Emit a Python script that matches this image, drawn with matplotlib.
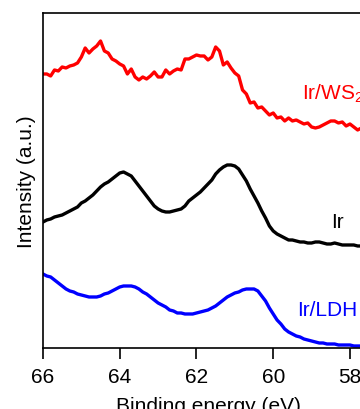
import matplotlib
matplotlib.use('Agg')
import matplotlib.pyplot as plt

plt.rcParams['font.family'] = ['Liberation Sans', 'DejaVu Sans']
plt.rcParams['mathtext.fontset'] = 'custom'
plt.rcParams['mathtext.rm'] = 'Liberation Sans'
plt.rcParams['mathtext.it'] = 'Liberation Sans'

# binding energy grid (eV)
energy = [66.0, 65.9, 65.8, 65.7, 65.6, 65.5, 65.4, 65.3, 65.2, 65.1,
          65.0, 64.9, 64.8, 64.7, 64.6, 64.5, 64.4, 64.3, 64.2, 64.1,
          64.0, 63.9, 63.8, 63.7, 63.6, 63.5, 63.4, 63.3, 63.2, 63.1,
          63.0, 62.9, 62.8, 62.7, 62.6, 62.5, 62.4, 62.3, 62.2, 62.1,
          62.0, 61.9, 61.8, 61.7, 61.6, 61.5, 61.4, 61.3, 61.2, 61.1,
          61.0, 60.9, 60.8, 60.7, 60.6, 60.5, 60.4, 60.3, 60.2, 60.1,
          60.0, 59.9, 59.8, 59.7, 59.6, 59.5, 59.4, 59.3, 59.2, 59.1,
          59.0, 58.9, 58.8, 58.7, 58.6, 58.5, 58.4, 58.3, 58.2, 58.1,
          58.0, 57.9, 57.8, 57.7, 57.6, 57.5, 57.4]

# stacked intensities (a.u., offset already included)
ir_ws2 = [274, 274, 272, 278, 277, 281, 280, 282, 283, 285,
          291, 300, 295, 299, 302, 307, 297, 295, 289, 287,
          284, 282, 274, 279, 271, 268, 271, 269, 272, 276,
          271, 271, 278, 274, 277, 279, 278, 289, 289, 291,
          293, 292, 292, 288, 291, 301, 297, 283, 286, 280,
          275, 272, 258, 254, 245, 246, 240, 241, 237, 233,
          235, 230, 231, 227, 230, 227, 228, 226, 224, 225,
          221, 220, 221, 223, 225, 227, 227, 225, 226, 222,
          224, 221, 218, 220, 219, 221, 219]

ir = [126, 128, 129, 131, 132, 133, 135, 137, 139, 141,
      145, 147, 150, 153, 157, 161, 164, 166, 169, 172,
      175, 176, 174, 172, 167, 162, 157, 152, 147, 142,
      139, 137, 136, 136, 137, 138, 139, 142, 147, 150,
      153, 156, 160, 164, 168, 174, 178, 181, 183, 183,
      182, 179, 173, 167, 159, 152, 145, 137, 130, 122,
      117, 114, 112, 110, 108, 108, 107, 106, 106, 105,
      105, 106, 106, 105, 104, 104, 105, 104, 103, 103,
      103, 103, 102, 102, 102, 102, 102]

ir_ldh = [74, 72, 71, 68, 65, 62, 59, 57, 56, 54,
          53, 52, 51, 51, 51, 52, 54, 55, 57, 59,
          61, 62, 62, 62, 61, 59, 56, 54, 51, 48,
          45, 43, 41, 38, 37, 35, 35, 34, 34, 34,
          35, 36, 37, 38, 40, 42, 45, 48, 51, 53,
          55, 56, 58, 59, 59, 59, 57, 52, 47, 40,
          34, 28, 24, 19, 16, 14, 12, 11, 9, 8,
          7, 6, 5, 5, 4, 4, 4, 3, 3, 3,
          3, 2, 2, 2, 2, 2, 2]

labels = ['Ir/WS$_\\mathrm{2}$', 'Ir', 'Ir/LDH']
label_pos = [(59.25, 249), (58.49, 121), (59.38, 33)]
colors = ['#ff0000', 'black', '#0000ff']

fig = plt.figure(figsize=(3.6, 4.1), dpi=100)
ax = fig.add_axes([0.1194, 0.1488, 0.9167, 0.8171])

for y, c in zip([ir_ws2, ir, ir_ldh], colors):
    ax.plot(energy, y, color=c, linewidth=2.4)

for lab, (lx, ly), c in zip(labels, label_pos, colors):
    ax.text(lx, ly, lab, color=c, fontsize=15, ha='left', va='baseline')

ax.set_xlim(66, 57.4)
ax.set_ylim(0, 335)
ax.set_xticks([66, 64, 62, 60, 58])
ax.set_yticks([])
ax.tick_params(axis='x', direction='out', length=8, width=1.2, labelsize=15, pad=6)
for s in ax.spines.values():
    s.set_linewidth(1.2)
ax.set_xlabel('Binding energy (eV)', fontsize=15, labelpad=7)
ax.set_ylabel('Intensity (a.u.)', fontsize=15, labelpad=5)

fig.savefig('out.png', dpi=100)
